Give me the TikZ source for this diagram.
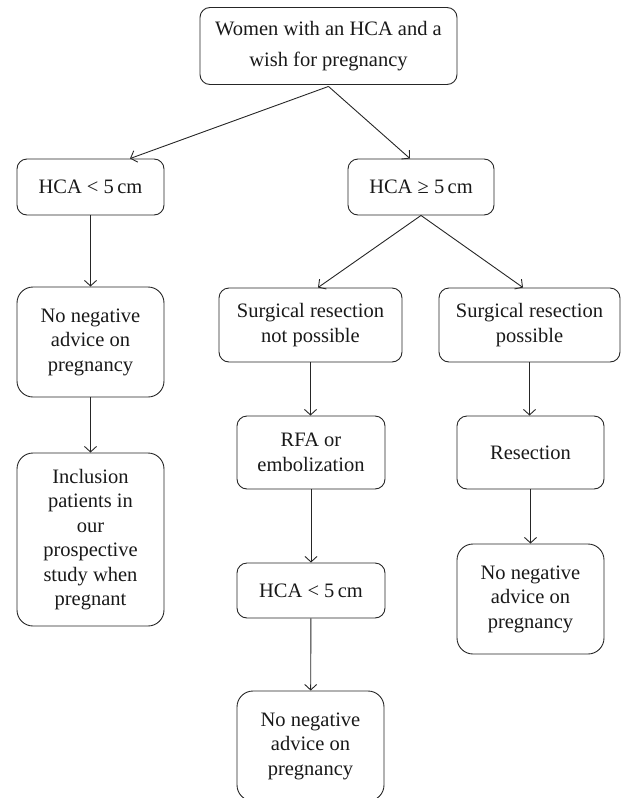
\documentclass[tikz,border=0pt]{standalone}
\usepackage{fontspec}
\setmainfont{Liberation Serif}
\usetikzlibrary{arrows.meta}
\tikzset{
  box/.style={draw=black!85, line width=0.9pt, rounded corners=10pt, inner sep=0pt,
    align=center, font=\fontsize{20.5}{24.5}\selectfont, text=black!90},
  tallbox/.style={box, rounded corners=16pt},
  conn/.style={draw=black!85, line width=0.9pt, -{Straight Barb[length=5.5pt,width=12pt,line width=0.9pt]}}
}
\begin{document}
\begin{tikzpicture}[x=1pt,y=-1pt]
\useasboundingbox (0,0) rectangle (621,798);
\clip (0,0) rectangle (621,798);
\node[box, minimum width=257pt, minimum height=77pt, font=\fontsize{20.5}{31}\selectfont] (top) at (328.5,46) {Women with an HCA and a\\wish for pregnancy};
\node[box, minimum width=147pt, minimum height=56pt] (hcaL) at (90.5,187) {HCA < 5\,cm};
\node[box, minimum width=146pt, minimum height=56pt] (hcaR) at (421,187) {HCA ≥ 5\,cm};
\node[tallbox, minimum width=147pt, minimum height=110pt] (neg1) at (90.5,342) {No negative\\advice on\\pregnancy};
\node[tallbox, minimum width=147pt, minimum height=173pt] (incl) at (90.5,539.5) {Inclusion\\patients in\\our\\prospective\\study when\\pregnant};
\node[box, minimum width=183pt, minimum height=74pt] (notp) at (310.5,325) {Surgical resection\\not possible};
\node[box, minimum width=181pt, minimum height=74pt] (poss) at (529.5,325) {Surgical resection\\possible};
\node[box, minimum width=148pt, minimum height=73pt] (rfa) at (311,452.5) {RFA or\\embolization};
\node[box, minimum width=147pt, minimum height=73pt] (resec) at (530.5,452.5) {Resection};
\node[box, minimum width=148pt, minimum height=55pt] (hcaM) at (311,590.5) {HCA < 5\,cm};
\node[tallbox, minimum width=147pt, minimum height=110pt] (neg3) at (530.5,599) {No negative\\advice on\\pregnancy};
\node[tallbox, minimum width=147pt, minimum height=110pt] (neg2) at (310.5,746) {No negative\\advice on\\pregnancy};

\draw[conn] ([yshift=-1.5pt]top.south) -- ([xshift=39.5pt]hcaL.north);
\draw[conn] ([yshift=-1.5pt]top.south) -- ([xshift=-11pt]hcaR.north);
\draw[conn] (hcaL) -- (neg1);
\draw[conn] (neg1) -- (incl);
\draw[conn] (hcaR.south) -- ([xshift=7.5pt]notp.north);
\draw[conn] (hcaR.south) -- ([xshift=-6.5pt]poss.north);
\draw[conn] (notp.south) -- (notp.south |- rfa.north);
\draw[conn] (rfa) -- (hcaM);
\draw[conn] (hcaM) -- (neg2);
\draw[conn] (poss.south) -- (poss.south |- resec.north);
\draw[conn] (resec) -- (neg3);
\end{tikzpicture}
\end{document}
